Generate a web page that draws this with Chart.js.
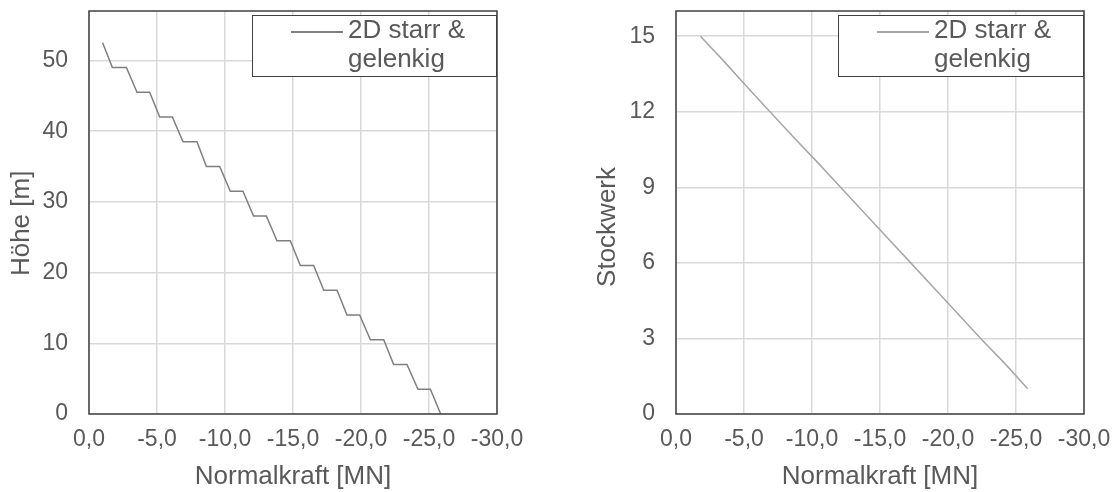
<!DOCTYPE html>
<html>
<head>
<meta charset="utf-8">
<script src="https://cdn.jsdelivr.net/npm/chart.js@4.4.1/dist/chart.umd.min.js"></script>
<style>
    body { margin: 0; background: #fff; width: 1115px; height: 492px; position: relative; overflow: hidden;
           font-family: "Liberation Sans", Arial, sans-serif; color: #595959; }
    .panel { position: absolute; top: 0; height: 492px; }
    #panel-left { left: 0; width: 557px; }
    #panel-right { left: 557px; width: 558px; }
    .legend { position: absolute; top: 15px; height: 62px; box-sizing: border-box; border: 1.5px solid #404040; background: #fff; }
    .legend .sample { position: absolute; top: 15px; left: 38px; width: 52px; height: 1.5px; }
    .legend .txt { position: absolute; top: -1px; left: 95px; font-size: 26px; line-height: 29px; white-space: nowrap; }
</style>
</head>
<body>
<div class="panel" id="panel-left"><canvas id="chart-hoehe" width="557" height="492"></canvas></div>
<div class="panel" id="panel-right"><canvas id="chart-stockwerk" width="558" height="492"></canvas></div>

<div class="legend" style="left:252px; width:245px;">
    <span class="sample" style="background:#7f7f7f"></span>
    <div class="txt">2D starr &amp;<br>gelenkig</div>
</div>
<div class="legend" style="left:838px; width:246px;">
    <span class="sample" style="background:#a6a6a6"></span>
    <div class="txt">2D starr &amp;<br>gelenkig</div>
</div>

<script>
// Left chart: normal force over building height (step line, 3.5 m per storey)
const stepForce = [-1.0, -1.72, -2.75, -3.53, -4.46, -5.2, -6.13, -6.91, -7.94, -8.63, -9.61,
    -10.39, -11.32, -12.1, -13.04, -13.82, -14.8, -15.54, -16.52, -17.26, -18.24,
    -18.97, -19.9, -20.69, -21.67, -22.4, -23.38, -24.19, -25.1, -25.86];
const stepHeight = [52.5, 49, 49, 45.5, 45.5, 42, 42, 38.5, 38.5, 35, 35,
    31.5, 31.5, 28, 28, 24.5, 24.5, 21, 21, 17.5, 17.5,
    14, 14, 10.5, 10.5, 7, 7, 3.5, 3.5, 0];

// Right chart: normal force per storey
const storeys = [15, 14, 13, 12, 11, 10, 9, 8, 7, 6, 5, 4, 3, 2, 1];
const storeyForce = [-1.8, -3.53, -5.2, -6.91, -8.63, -10.39, -12.1, -13.82, -15.54, -17.26,
    -18.97, -20.69, -22.4, -24.19, -25.86];

const xTicks = [0, -5, -10, -15, -20, -25, -30];
const heightTicks = [0, 10, 20, 30, 40, 50];
const storeyTicks = [0, 3, 6, 9, 12, 15];

Chart.defaults.font.family = "'Liberation Sans', Arial, sans-serif";
Chart.defaults.color = '#595959';

// frame around the plot area
const frame = {
    id: 'frame',
    afterDraw(chart) {
        const { ctx, chartArea: a } = chart;
        ctx.save();
        ctx.strokeStyle = '#404040';
        ctx.lineWidth = 1.5;
        ctx.strokeRect(a.left, a.top, a.right - a.left, a.bottom - a.top);
        ctx.restore();
    }
};

function axes(yMax, yTicks, yTitle, yWidth, yTitlePad) {
    return {
        x: {
            type: 'linear',
            reverse: true,
            min: -30,
            max: 0,
            afterBuildTicks: s => { s.ticks = xTicks.map(v => ({ value: v })); },
            afterFit: s => { s.height = 78; s.paddingLeft = 0; s.paddingRight = 0; },
            grid: { color: '#d9d9d9', lineWidth: 1.5, drawTicks: false },
            border: { display: false },
            ticks: { font: { size: 23 }, padding: 12, maxRotation: 0,
                     callback: v => v.toFixed(1).replace('.', ',') },
            title: { display: true, text: 'Normalkraft [MN]', font: { size: 26 }, padding: { top: 0, bottom: 0 } }
        },
        y: {
            type: 'linear',
            min: 0,
            max: yMax,
            afterBuildTicks: s => { s.ticks = yTicks.map(v => ({ value: v })); },
            afterFit: s => { s.width = yWidth; s.paddingTop = 0; s.paddingBottom = 0; },
            grid: { color: '#d9d9d9', lineWidth: 1.5, drawTicks: false },
            border: { display: false },
            ticks: { font: { size: 23 }, padding: 21 },
            title: { display: true, text: yTitle, font: { size: 26 }, padding: { top: yTitlePad, bottom: 0 } }
        }
    };
}

const chartHoehe = new Chart(document.getElementById('chart-hoehe'), {
    type: 'scatter',
    data: {
        datasets: [{
            label: '2D starr & gelenkig',
            data: stepForce.map((f, i) => ({ x: f, y: stepHeight[i] })),
            showLine: true,
            borderColor: '#7f7f7f',
            borderWidth: 1.5,
            pointRadius: 0,
            tension: 0
        }]
    },
    options: {
        responsive: false,
        animation: false,
        layout: { padding: { top: 11, right: 60, left: 0, bottom: 0 } },
        plugins: { legend: { display: false }, tooltip: { enabled: false } },
        scales: axes(57, heightTicks, 'Höhe [m]   ', 89, 6)
    },
    plugins: [frame]
});

const chartStockwerk = new Chart(document.getElementById('chart-stockwerk'), {
    type: 'scatter',
    data: {
        datasets: [{
            label: '2D starr & gelenkig',
            data: storeyForce.map((f, i) => ({ x: f, y: storeys[i] })),
            showLine: true,
            borderColor: '#a6a6a6',
            borderWidth: 1.5,
            pointRadius: 0,
            tension: 0
        }]
    },
    options: {
        responsive: false,
        animation: false,
        layout: { padding: { top: 11, right: 31, left: 0, bottom: 0 } },
        plugins: { legend: { display: false }, tooltip: { enabled: false } },
        scales: axes(16, storeyTicks, 'Stockwerk    ', 119, 35)
    },
    plugins: [frame]
});
</script>
</body>
</html>
